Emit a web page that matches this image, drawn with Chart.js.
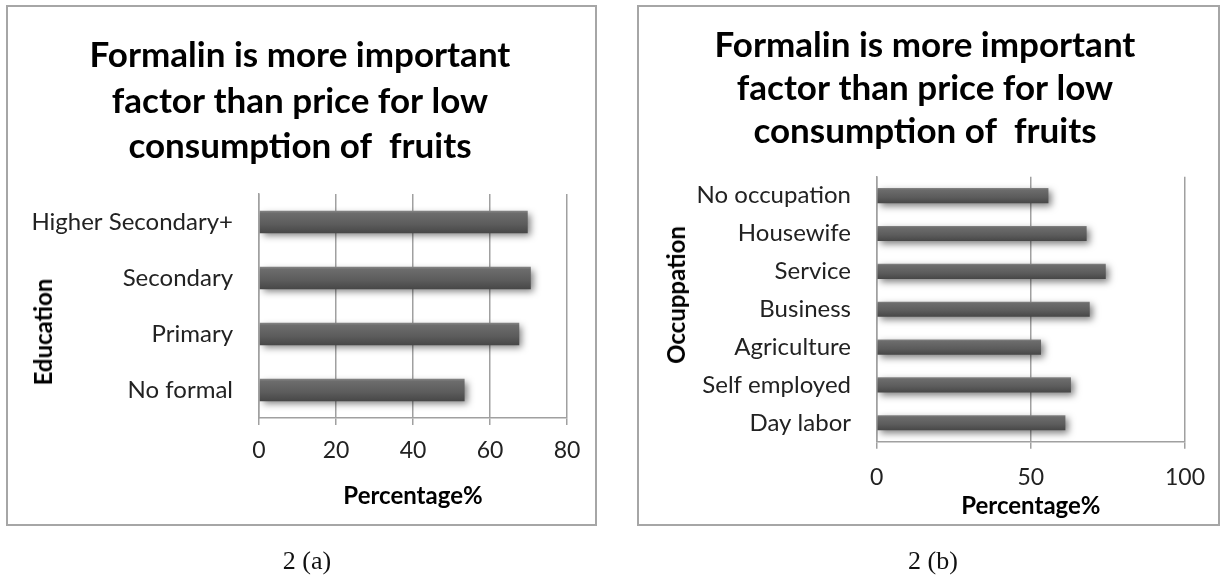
<!DOCTYPE html>
<html>
<head>
<meta charset="utf-8">
<script src="https://cdn.jsdelivr.net/npm/chart.js@4.4.1/dist/chart.umd.min.js"></script>
<style>
  html, body { margin: 0; padding: 0; background: #fff; }
  body { width: 1224px; height: 579px; position: relative; overflow: hidden; }
  .box { position: absolute; border: 2px solid #a6a6a6; box-sizing: border-box; }
  .wrap { position: absolute; top: 0; width: 612px; height: 579px; }
  .cap { position: absolute; font-family: 'Liberation Serif', serif; font-size: 26px; color: #111; transform: translate(-50%, -50%); white-space: nowrap; }
  .ytitle { position: absolute; font-family: 'Lato', sans-serif; font-weight: bold; font-size: 24px; color: #000; line-height: 1; white-space: nowrap; transform: translate(-50%, -50%) rotate(-90deg); }
</style>
</head>
<body>
<div class="box" style="left:6px;top:5px;width:591px;height:521px;"></div>
<div class="box" style="left:637px;top:5px;width:583px;height:521px;"></div>
<div class="wrap" style="left:0px;"><canvas id="c1" width="612" height="579"></canvas></div>
<div class="wrap" style="left:612px;"><canvas id="c2" width="612" height="579"></canvas></div>
<div class="ytitle" id="t1" style="left:43px;top:332px;"></div>
<div class="ytitle" id="t2" style="left:676px;top:295px;"></div>
<div class="cap" style="left:307px;top:561px;">2 (a)</div>
<div class="cap" style="left:933px;top:561px;">2 (b)</div>
<script>
const titleLines = ['Formalin is more important', 'factor than price for low', 'consumption of  fruits'];

const eduTitle = 'Education';
const eduCategories = ['Higher Secondary+', 'Secondary', 'Primary', 'No formal'];
const eduValues = [69.8, 70.6, 67.6, 53.4];
const eduTicks = [0, 20, 40, 60, 80];

const occTitle = 'Occuppation';
const occCategories = ['No occupation', 'Housewife', 'Service', 'Business', 'Agriculture', 'Self employed', 'Day labor'];
const occValues = [55.7, 68.1, 74.3, 69.1, 53.3, 63.0, 61.2];
const occTicks = [0, 50, 100];

const xTitle = 'Percentage%';

const FONT = 'Lato';
const GRID = '#a0a0a0';

document.getElementById('t1').textContent = eduTitle;
document.getElementById('t2').textContent = occTitle;

function barFill(c) {
  const el = c.element;
  if (!el || el.y == null || isNaN(el.y) || !el.height) return '#5b5b5b';
  const h = el.height;
  const g = c.chart.ctx.createLinearGradient(0, el.y - h / 2, 0, el.y + h / 2);
  g.addColorStop(0, '#858585');
  g.addColorStop(0.12, '#6c6c6c');
  g.addColorStop(0.6, '#5c5c5c');
  g.addColorStop(1, '#474747');
  return g;
}

const shadowPlugin = {
  id: 'barShadow',
  beforeDatasetsDraw(chart) {
    const ctx = chart.ctx;
    ctx.save();
    ctx.shadowColor = 'rgba(0,0,0,0.5)';
    ctx.shadowBlur = 7;
    ctx.shadowOffsetX = 3;
    ctx.shadowOffsetY = 3;
  },
  afterDatasetsDraw(chart) {
    chart.ctx.restore();
  }
};

function makeChart(id, cfg) {
  const chart = new Chart(document.getElementById(id), {
    type: 'bar',
    data: {
      labels: cfg.categories,
      datasets: [{
        data: cfg.values,
        backgroundColor: barFill,
        borderWidth: 0,
        categoryPercentage: 1,
        barPercentage: 0.4
      }]
    },
    plugins: [shadowPlugin],
    options: {
      indexAxis: 'y',
      responsive: false,
      animation: false,
      devicePixelRatio: 1,
      layout: { padding: cfg.layoutPadding },
      plugins: {
        legend: { display: false },
        tooltip: { enabled: false },
        title: {
          display: true,
          text: titleLines,
          color: '#000',
          font: { family: FONT, size: 35, weight: 'bold', lineHeight: cfg.titleLH / 35 },
          padding: { top: cfg.titleTop, bottom: cfg.titleBottom }
        }
      },
      scales: {
        x: {
          min: 0,
          max: cfg.max,
          afterBuildTicks: (s) => { s.ticks = cfg.ticks.map(v => ({ value: v })); },
          ticks: { color: '#222', font: { family: FONT, size: 23, lineHeight: 1.2 }, padding: cfg.tickPad },
          grid: { color: GRID, lineWidth: 1.5, drawTicks: true, tickLength: 7, tickColor: GRID },
          border: { display: true, color: GRID, width: 1.5 },
          title: {
            display: true,
            text: xTitle,
            color: '#000',
            font: { family: FONT, size: 24, weight: 'bold', lineHeight: 1 },
            padding: { top: 0, bottom: cfg.xTitleBottom }
          },
          afterFit: (s) => { s.height = cfg.xHeight; }
        },
        y: {
          grid: { display: false, drawTicks: false },
          border: { display: true, color: GRID, width: 1.5 },
          ticks: { color: '#222', font: { family: FONT, size: 24 }, padding: cfg.yTickPad },
          title: { display: false },
          afterFit: (s) => { s.width = cfg.yWidth; }
        }
      }
    }
  });
  chart.update();
  return chart;
}

makeChart('c1', {
  categories: eduCategories, values: eduValues, ticks: eduTicks, max: 80,
  layoutPadding: { left: 33, right: 45, top: 0, bottom: 53 },
  titleLH: 45.5, titleTop: 33, titleBottom: 24.5,
  xHeight: 108, tickPad: 12.2, xTitleBottom: 17.5,
  yWidth: 226, yTickPad: 26
});

makeChart('c2', {
  categories: occCategories, values: occValues, ticks: occTicks, max: 100,
  layoutPadding: { left: 53, right: 39, top: 0, bottom: 53 },
  titleLH: 43, titleTop: 24.5, titleBottom: 23.2,
  xHeight: 84.3, tickPad: 15.5, xTitleBottom: 7.3,
  yWidth: 211.7, yTickPad: 25.7
});
</script>
</body>
</html>
